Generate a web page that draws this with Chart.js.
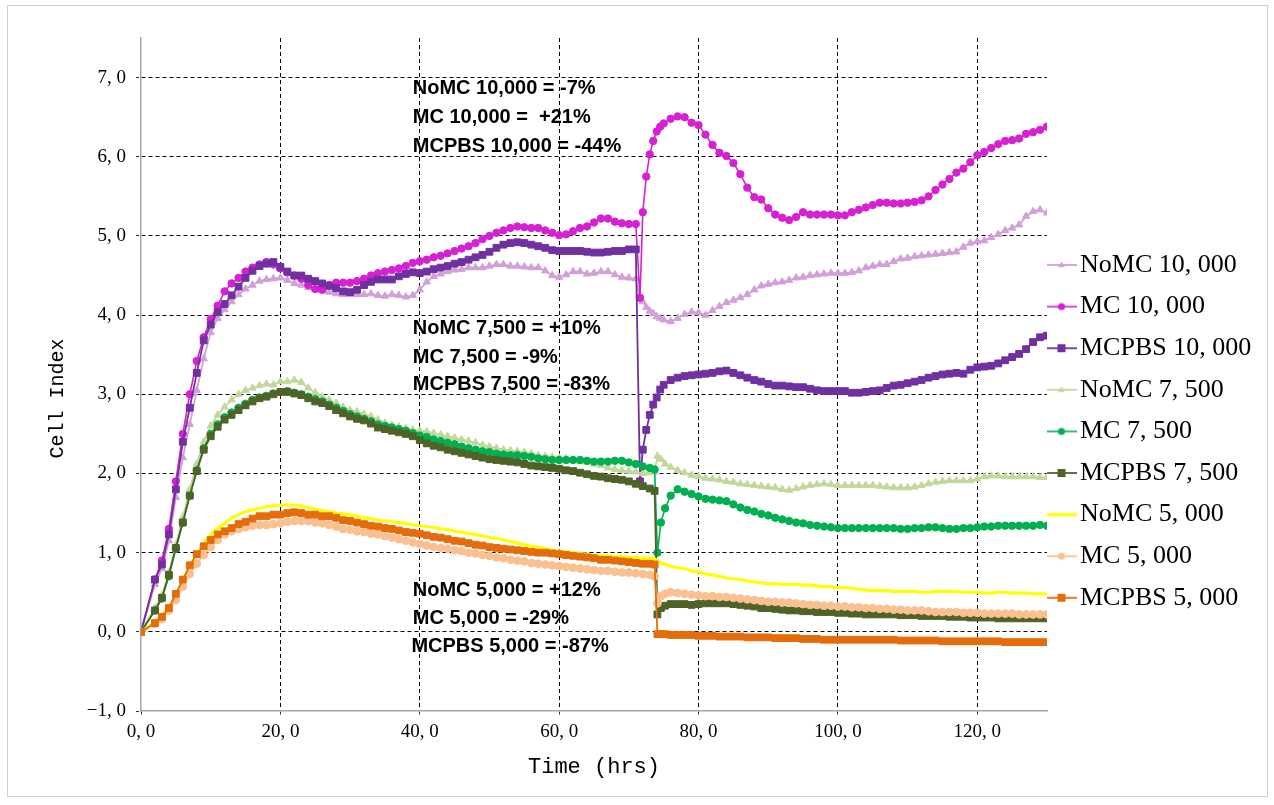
<!DOCTYPE html>
<html>
<head>
<meta charset="utf-8">
<title>Cell Index</title>
<script src="https://cdn.jsdelivr.net/npm/chart.js@4.4.1/dist/chart.umd.min.js"></script>
<style>
  html, body { margin: 0; padding: 0; background: #ffffff; }
  canvas { display: block; }
</style>
</head>
<body>
<canvas id="chart" width="1274" height="805"></canvas>
<script>
// Measurement times (hrs). The 10,000-cell plates were handled at ~71.6 h,
// the 7,500 and 5,000 plates at ~74 h.
const hoursA = [0,
  2,3,4,5,6,7,8,9,10,11,
  12,13,14,15,16,17,18,19,20,21,
  22,23,24,25,26,27,28,29,30,31,
  32,33,34,35,36,37,38,39,40,41,
  42,43,44,45,46,47,48,49,50,51,
  52,53,54,55,56,57,58,59,60,61,
  62,63,64,65,66,67,68,69,70,71,
  71.6,72,72.5,73,73.5,74,74.5,
  75,76,77,78,79,80,81,82,83,84,
  85,86,87,88,89,90,91,92,93,94,
  95,96,97,98,99,100,101,102,103,104,
  105,106,107,108,109,110,111,112,113,114,
  115,116,117,118,119,120,121,122,123,124,
  125,126,127,128,129,130];

const hoursB = [0,
  2,3,4,5,6,7,8,9,10,11,
  12,13,14,15,16,17,18,19,20,21,
  22,23,24,25,26,27,28,29,30,31,
  32,33,34,35,36,37,38,39,40,41,
  42,43,44,45,46,47,48,49,50,51,
  52,53,54,55,56,57,58,59,60,61,
  62,63,64,65,66,67,68,69,70,71,
  72,73,
  73.7,74.1,74.6,75.2,
  76,77,78,79,80,81,82,83,84,85,
  86,87,88,89,90,91,92,93,94,95,
  96,97,98,99,100,101,102,103,104,105,
  106,107,108,109,110,111,112,113,114,115,
  116,117,118,119,120,121,122,123,124,125,
  126,127,128,129,130];

// Cell Index, 10,000 cells / well (times: hoursA)
const noMC10000 = [0,
  0.60,0.80,1.15,1.70,2.20,2.62,3.05,3.45,3.78,3.96,
  4.07,4.17,4.26,4.33,4.38,4.43,4.45,4.46,4.47,4.44,
  4.40,4.38,4.35,4.33,4.31,4.29,4.27,4.26,4.26,4.26,
  4.26,4.27,4.25,4.24,4.26,4.25,4.23,4.25,4.32,4.42,
  4.49,4.52,4.55,4.57,4.58,4.60,4.60,4.60,4.62,4.64,
  4.64,4.62,4.62,4.61,4.60,4.60,4.56,4.50,4.48,4.51,
  4.55,4.55,4.52,4.53,4.55,4.55,4.51,4.48,4.47,4.46,
  4.20,4.17,4.10,4.05,4.02,3.98,3.96,
  3.94,3.92,3.96,4.01,4.04,4.03,4.00,4.06,4.11,4.16,
  4.19,4.22,4.26,4.32,4.37,4.39,4.41,4.42,4.44,4.47,
  4.48,4.50,4.51,4.52,4.53,4.53,4.53,4.54,4.56,4.60,
  4.62,4.64,4.64,4.68,4.71,4.72,4.74,4.75,4.76,4.77,
  4.78,4.79,4.80,4.86,4.91,4.93,4.94,4.98,5.02,5.07,
  5.10,5.14,5.25,5.31,5.33,5.29];

const mc10000 = [0,
  0.66,0.90,1.30,1.90,2.50,3.00,3.42,3.72,3.95,4.12,
  4.30,4.40,4.47,4.55,4.60,4.64,4.67,4.64,4.59,4.54,
  4.50,4.46,4.38,4.33,4.32,4.38,4.41,4.41,4.41,4.43,
  4.46,4.50,4.53,4.55,4.57,4.59,4.62,4.66,4.68,4.70,
  4.73,4.75,4.78,4.81,4.84,4.87,4.91,4.96,5.00,5.04,
  5.07,5.10,5.12,5.11,5.10,5.10,5.07,5.04,5.01,5.02,
  5.06,5.10,5.12,5.17,5.22,5.22,5.18,5.16,5.15,5.15,
  4.22,5.30,5.75,6.03,6.20,6.32,6.38,
  6.42,6.48,6.51,6.50,6.43,6.40,6.28,6.15,6.05,6.01,
  5.92,5.78,5.61,5.49,5.46,5.35,5.27,5.23,5.20,5.24,
  5.30,5.27,5.27,5.27,5.27,5.26,5.26,5.30,5.33,5.36,
  5.39,5.42,5.42,5.41,5.41,5.42,5.43,5.45,5.50,5.58,
  5.65,5.72,5.80,5.85,5.93,6.02,6.06,6.11,6.16,6.20,
  6.21,6.23,6.29,6.31,6.34,6.38];

const mcpbs10000 = [0,
  0.66,0.85,1.23,1.80,2.40,2.83,3.27,3.68,3.88,4.04,
  4.14,4.25,4.36,4.47,4.56,4.62,4.65,4.67,4.61,4.55,
  4.50,4.50,4.46,4.43,4.40,4.37,4.34,4.30,4.29,4.32,
  4.38,4.42,4.45,4.45,4.45,4.49,4.52,4.54,4.53,4.55,
  4.58,4.60,4.62,4.65,4.67,4.70,4.73,4.76,4.80,4.85,
  4.89,4.91,4.92,4.91,4.89,4.87,4.85,4.82,4.81,4.81,
  4.81,4.81,4.80,4.79,4.79,4.80,4.81,4.81,4.83,4.83,
  1.90,2.30,2.55,2.74,2.87,2.96,3.06,
  3.12,3.18,3.21,3.23,3.24,3.25,3.26,3.27,3.29,3.30,
  3.27,3.24,3.21,3.18,3.16,3.13,3.11,3.11,3.10,3.09,
  3.09,3.07,3.05,3.04,3.04,3.04,3.04,3.02,3.02,3.03,
  3.04,3.05,3.08,3.11,3.12,3.14,3.16,3.18,3.21,3.23,
  3.25,3.26,3.27,3.26,3.31,3.34,3.35,3.36,3.39,3.43,
  3.47,3.51,3.57,3.66,3.72,3.74];

// Cell Index, 7,500 and 5,000 cells / well (times: hoursB)
const noMC7500 = [0,
  0.30,0.46,0.75,1.10,1.45,1.80,2.12,2.40,2.60,2.74,
  2.84,2.93,3.00,3.05,3.08,3.11,3.13,3.12,3.16,3.16,
  3.18,3.15,3.08,3.02,2.97,2.93,2.89,2.84,2.80,2.78,
  2.75,2.72,2.68,2.64,2.61,2.59,2.57,2.55,2.54,2.53,
  2.51,2.49,2.47,2.45,2.43,2.41,2.39,2.36,2.34,2.32,
  2.30,2.29,2.28,2.27,2.25,2.23,2.22,2.21,2.20,2.19,
  2.17,2.15,2.14,2.12,2.10,2.07,2.05,2.04,2.03,2.02,
  2.00,2.01,
  2.02,2.22,2.18,2.12,
  2.08,2.04,2.01,1.98,1.96,1.94,1.93,1.92,1.90,1.89,
  1.87,1.86,1.85,1.84,1.83,1.82,1.80,1.79,1.81,1.83,
  1.85,1.86,1.87,1.86,1.85,1.85,1.85,1.85,1.85,1.85,
  1.84,1.83,1.82,1.82,1.82,1.83,1.85,1.87,1.89,1.90,
  1.91,1.91,1.91,1.91,1.93,1.96,1.97,1.97,1.96,1.96,
  1.96,1.96,1.96,1.95,1.95];

const mc7500 = [0,
  0.27,0.42,0.70,1.05,1.38,1.72,2.04,2.32,2.50,2.62,
  2.71,2.77,2.83,2.88,2.93,2.96,2.98,3.01,3.03,3.04,
  3.02,3.00,2.97,2.94,2.91,2.87,2.83,2.79,2.75,2.72,
  2.69,2.66,2.62,2.60,2.58,2.56,2.54,2.51,2.48,2.46,
  2.43,2.41,2.39,2.37,2.34,2.32,2.30,2.28,2.27,2.25,
  2.24,2.23,2.23,2.22,2.21,2.19,2.18,2.17,2.17,2.17,
  2.17,2.17,2.16,2.15,2.15,2.15,2.16,2.16,2.14,2.12,
  2.09,2.07,
  2.05,1.00,1.38,1.56,
  1.72,1.80,1.77,1.74,1.71,1.68,1.67,1.66,1.65,1.61,
  1.57,1.54,1.52,1.49,1.47,1.44,1.42,1.40,1.38,1.37,
  1.35,1.34,1.33,1.32,1.31,1.31,1.31,1.31,1.31,1.31,
  1.31,1.31,1.31,1.30,1.30,1.31,1.31,1.32,1.32,1.31,
  1.30,1.30,1.31,1.31,1.32,1.33,1.33,1.34,1.34,1.34,
  1.34,1.34,1.34,1.35,1.34];

const mcpbs7500 = [0,
  0.27,0.43,0.72,1.06,1.38,1.72,2.03,2.30,2.47,2.59,
  2.68,2.74,2.80,2.86,2.91,2.95,2.97,3.00,3.03,3.03,
  3.01,2.99,2.95,2.91,2.89,2.85,2.80,2.76,2.72,2.69,
  2.67,2.63,2.58,2.56,2.54,2.52,2.50,2.47,2.42,2.38,
  2.35,2.33,2.30,2.28,2.26,2.24,2.22,2.20,2.18,2.17,
  2.16,2.15,2.14,2.12,2.10,2.09,2.08,2.07,2.06,2.04,
  2.03,2.01,1.99,1.97,1.96,1.94,1.93,1.92,1.90,1.87,
  1.84,1.81,
  1.78,0.22,0.30,0.33,
  0.35,0.35,0.35,0.34,0.35,0.36,0.36,0.36,0.36,0.35,
  0.34,0.33,0.32,0.30,0.30,0.29,0.28,0.27,0.27,0.26,
  0.26,0.25,0.25,0.25,0.24,0.24,0.23,0.23,0.22,0.22,
  0.22,0.22,0.22,0.21,0.21,0.21,0.20,0.20,0.20,0.20,
  0.19,0.19,0.19,0.18,0.18,0.18,0.18,0.17,0.17,0.17,
  0.17,0.17,0.17,0.17,0.17];

const noMC5000 = [0,
  0.12,0.21,0.31,0.45,0.65,0.82,0.98,1.12,1.23,1.31,
  1.37,1.44,1.48,1.52,1.54,1.56,1.58,1.59,1.60,1.60,
  1.60,1.59,1.57,1.55,1.53,1.52,1.50,1.49,1.48,1.46,
  1.44,1.43,1.41,1.40,1.39,1.38,1.37,1.35,1.34,1.33,
  1.32,1.30,1.29,1.27,1.26,1.24,1.23,1.21,1.19,1.18,
  1.16,1.14,1.12,1.10,1.08,1.07,1.05,1.03,1.02,1.01,
  1.00,0.99,0.98,0.97,0.96,0.96,0.95,0.95,0.94,0.94,
  0.93,0.93,
  0.92,0.90,0.87,0.85,
  0.83,0.81,0.80,0.77,0.76,0.73,0.72,0.70,0.68,0.67,
  0.66,0.64,0.63,0.62,0.61,0.61,0.60,0.60,0.60,0.59,
  0.59,0.58,0.57,0.57,0.56,0.56,0.55,0.54,0.53,0.52,
  0.52,0.52,0.51,0.51,0.51,0.51,0.50,0.50,0.51,0.51,
  0.51,0.51,0.50,0.50,0.50,0.49,0.49,0.50,0.50,0.49,
  0.49,0.49,0.48,0.48,0.48];

const mc5000 = [0,
  0.10,0.16,0.27,0.40,0.57,0.73,0.86,0.97,1.07,1.16,
  1.23,1.27,1.30,1.32,1.34,1.35,1.35,1.36,1.37,1.39,
  1.40,1.40,1.40,1.38,1.37,1.35,1.33,1.30,1.29,1.27,
  1.26,1.24,1.23,1.21,1.19,1.17,1.15,1.13,1.11,1.09,
  1.07,1.06,1.05,1.03,1.02,1.00,0.99,0.97,0.96,0.94,
  0.93,0.91,0.90,0.89,0.87,0.86,0.85,0.84,0.83,0.82,
  0.81,0.80,0.79,0.78,0.77,0.77,0.76,0.75,0.75,0.74,
  0.73,0.72,
  0.70,0.36,0.45,0.48,
  0.50,0.49,0.48,0.47,0.46,0.45,0.45,0.44,0.44,0.43,
  0.42,0.41,0.40,0.39,0.38,0.38,0.37,0.37,0.36,0.35,
  0.34,0.34,0.33,0.33,0.32,0.32,0.31,0.31,0.30,0.30,
  0.29,0.29,0.28,0.28,0.27,0.27,0.27,0.26,0.25,0.25,
  0.25,0.25,0.24,0.24,0.24,0.23,0.23,0.23,0.23,0.23,
  0.22,0.22,0.22,0.22,0.22];

const mcpbs5000 = [0,
  0.11,0.19,0.30,0.48,0.66,0.84,0.98,1.08,1.16,1.23,
  1.27,1.31,1.36,1.39,1.43,1.46,1.46,1.48,1.48,1.50,
  1.51,1.50,1.48,1.48,1.46,1.46,1.44,1.41,1.40,1.38,
  1.36,1.34,1.33,1.31,1.30,1.28,1.26,1.25,1.24,1.22,
  1.20,1.19,1.17,1.15,1.14,1.12,1.10,1.09,1.07,1.06,
  1.05,1.04,1.03,1.02,1.01,1.00,1.00,0.99,0.98,0.97,
  0.96,0.95,0.94,0.93,0.91,0.91,0.90,0.89,0.88,0.87,
  0.86,0.86,
  0.85,-0.03,-0.03,-0.03,
  -0.04,-0.04,-0.04,-0.04,-0.05,-0.05,-0.05,-0.06,-0.06,-0.06,
  -0.06,-0.07,-0.07,-0.07,-0.07,-0.08,-0.08,-0.08,-0.08,-0.09,
  -0.09,-0.09,-0.10,-0.10,-0.10,-0.10,-0.10,-0.10,-0.10,-0.10,
  -0.10,-0.10,-0.10,-0.11,-0.11,-0.11,-0.11,-0.11,-0.11,-0.12,
  -0.12,-0.12,-0.12,-0.12,-0.12,-0.12,-0.12,-0.12,-0.13,-0.13,
  -0.13,-0.13,-0.13,-0.13,-0.13];

// Axis tick values
const xTicks = [0, 20, 40, 60, 80, 100, 120];
const yTicks = [-1, 0, 1, 2, 3, 4, 5, 6, 7];

// Legend names
const seriesNames = [
  'NoMC 10, 000', 'MC 10, 000', 'MCPBS 10, 000',
  'NoMC 7, 500', 'MC 7, 500', 'MCPBS 7, 500',
  'NoMC 5, 000', 'MC 5, 000', 'MCPBS 5, 000'
];

// Percentage notes written over the plot
const noteTexts = [
  'NoMC 10,000 = -7%', 'MC 10,000 =  +21%', 'MCPBS 10,000 = -44%',
  'NoMC 7,500 = +10%', 'MC 7,500 = -9%', 'MCPBS 7,500 = -83%',
  'NoMC 5,000 = +12%', 'MC 5,000 = -29%', 'MCPBS 5,000 = -87%'
];

// ---- presentation ----
const seriesValues = [noMC10000, mc10000, mcpbs10000, noMC7500, mc7500, mcpbs7500, noMC5000, mc5000, mcpbs5000];
const seriesTimes  = [hoursA, hoursA, hoursA, hoursB, hoursB, hoursB, hoursB, hoursB, hoursB];
const seriesLook = [
  { color: '#d29fd9', marker: 'triangle', r: 4.2, w: 1.8 },
  { color: '#d620d2', marker: 'circle',   r: 3.7, w: 1.6 },
  { color: '#7030a0', marker: 'rect',     r: 4.8, w: 1.8 },
  { color: '#c4d79b', marker: 'triangle', r: 4.2, w: 1.8 },
  { color: '#00b050', marker: 'circle',   r: 3.7, w: 1.6 },
  { color: '#4f6228', marker: 'rect',     r: 4.8, w: 1.8 },
  { color: '#ffff00', marker: false,      r: 0,   w: 3.2 },
  { color: '#fac090', marker: 'circle',   r: 3.9, w: 1.8 },
  { color: '#e46c0a', marker: 'rect',     r: 4.8, w: 1.8 }
];
// note anchors in data units (hrs, Cell Index)
const noteAnchors = [
  [39, 6.86], [39, 6.50], [39, 6.13],
  [39, 3.83], [39, 3.47], [39, 3.12],
  [39, 0.52], [39, 0.17], [38.8, -0.19]
];

function commaDecimal(v) {
  const s = Math.abs(v).toFixed(1).replace('.', ', ');
  return (v < 0 ? '\u2212' : '') + s;
}

function legendIcon(look) {
  const c = document.createElement('canvas');
  c.width = 30; c.height = 14;
  const g = c.getContext('2d');
  g.strokeStyle = look.color;
  g.fillStyle = look.color;
  g.lineWidth = look.w;
  g.beginPath(); g.moveTo(0, 7); g.lineTo(30, 7); g.stroke();
  const r = 3.6;
  if (look.marker === 'circle') {
    g.beginPath(); g.arc(15, 7, r, 0, Math.PI * 2); g.fill();
  } else if (look.marker === 'rect') {
    const s = 4;
    g.fillRect(15 - s, 7 - s, 2 * s, 2 * s);
  } else if (look.marker === 'triangle') {
    g.beginPath();
    g.moveTo(15, 7 - r);
    g.lineTo(15 + r * 0.95, 7 + r * 0.6);
    g.lineTo(15 - r * 0.95, 7 + r * 0.6);
    g.closePath(); g.fill();
  }
  return c;
}

const datasets = seriesNames.map((name, i) => {
  const look = seriesLook[i];
  return {
    label: name,
    data: seriesValues[i].map((v, k) => ({ x: seriesTimes[i][k], y: v })),
    borderColor: look.color,
    backgroundColor: look.color,
    borderWidth: look.w,
    pointStyle: look.marker || 'circle',
    pointRadius: look.r,
    pointBackgroundColor: look.color,
    pointBorderColor: look.color,
    pointBorderWidth: 1,
    tension: 0,
    fill: false,
    order: seriesNames.length - i   // later series sit on top
  };
});

const LEGEND_LEFT = 1040.4;
const LEGEND_TOP = 236.4;

const layoutTweaks = {
  id: 'layoutTweaks',
  beforeUpdate(chart) {
    const lg = chart.legend;
    if (lg && !lg._fixedWidth) {
      const fit = lg.fit;
      lg.fit = function () { fit.call(this); this.width = 227; };
      lg._fixedWidth = true;
    }
  },
  afterLayout(chart) {
    const lg = chart.legend;
    if (lg) { lg.left = LEGEND_LEFT; lg.top = LEGEND_TOP; }
  },
  beforeDraw(chart) {
    const ctx = chart.ctx;
    ctx.save();
    ctx.fillStyle = '#ffffff';
    ctx.fillRect(0, 0, chart.width, chart.height);
    ctx.strokeStyle = '#cfcfcf';
    ctx.lineWidth = 1;
    ctx.strokeRect(7.5, 5.5, 1260, 791);
    ctx.restore();
  }
};

const notesPlugin = {
  id: 'notes',
  afterDraw(chart) {
    const { ctx, scales } = chart;
    ctx.save();
    ctx.fillStyle = '#000000';
    ctx.font = 'bold 20px "Liberation Sans", Arial, sans-serif';
    ctx.textAlign = 'left';
    ctx.textBaseline = 'middle';
    noteTexts.forEach((t, i) => {
      const [hx, cy] = noteAnchors[i];
      ctx.fillText(t, scales.x.getPixelForValue(hx), scales.y.getPixelForValue(cy));
    });
    ctx.restore();
  }
};

const tickFont = { family: '"Liberation Serif", "DejaVu Serif", serif', size: 19 };
const clear = 'rgba(0,0,0,0)';

new Chart(document.getElementById('chart'), {
  type: 'line',
  data: { datasets },
  plugins: [layoutTweaks, notesPlugin],
  options: {
    responsive: false,
    animation: false,
    events: [],
    layout: { padding: { left: 8, top: 38, right: 0, bottom: 10 } },
    plugins: {
      tooltip: { enabled: false },
      legend: {
        display: true,
        position: 'right',
        align: 'start',
        labels: {
          usePointStyle: true,
          pointStyleWidth: 11,
          padding: 15.6,
          color: '#000000',
          font: { family: '"Liberation Serif", "DejaVu Serif", serif', size: 26 },
          sort: (a, b) => a.datasetIndex - b.datasetIndex,
          generateLabels(chart) {
            return chart.data.datasets.map((ds, i) => ({
              text: ds.label,
              datasetIndex: i,
              pointStyle: legendIcon(seriesLook[i]),
              fillStyle: clear,
              strokeStyle: clear,
              lineWidth: 0,
              hidden: false,
              fontColor: '#000000'
            }));
          }
        }
      }
    },
    scales: {
      x: {
        type: 'linear',
        min: 0,
        max: 130,
        afterBuildTicks(scale) { scale.ticks = xTicks.map(v => ({ value: v })); },
        afterFit(scale) { scale.height = 84; },
        ticks: { callback: v => commaDecimal(v), font: tickFont, color: '#000000', padding: 5, maxRotation: 0 },
        grid: {
          color: c => (c.tick && c.tick.value === 0) ? clear : '#000000',
          lineWidth: 1,
          tickLength: 5,
          tickColor: '#333333',
          tickBorderDash: [3, 2]
        },
        border: { color: '#a6a6a6', width: 1.5, dash: [4, 3] },
        title: {
          display: true,
          text: 'Time (hrs)',
          color: '#000000',
          font: { family: '"Liberation Mono", "DejaVu Sans Mono", monospace', size: 22 },
          padding: { top: 0, bottom: 15 }
        }
      },
      y: {
        type: 'linear',
        min: -1,
        max: 7.5,
        afterBuildTicks(scale) { scale.ticks = yTicks.map(v => ({ value: v })); },
        afterFit(scale) { scale.width = 133; },
        ticks: { callback: v => commaDecimal(v), font: tickFont, color: '#000000', padding: 10 },
        grid: {
          color: c => (c.tick && c.tick.value === -1) ? clear : '#000000',
          lineWidth: 1,
          tickLength: 5,
          tickColor: '#333333',
          tickBorderDash: [3, 2]
        },
        border: { color: '#a6a6a6', width: 1.5, dash: [4, 3] },
        title: {
          display: true,
          text: 'Cell Index\u00a0\u00a0\u00a0\u00a0',
          color: '#000000',
          font: { family: '"Liberation Mono", "DejaVu Sans Mono", monospace', size: 20 },
          padding: { top: 38, bottom: 0 }
        }
      }
    }
  }
});
</script>
</body>
</html>
